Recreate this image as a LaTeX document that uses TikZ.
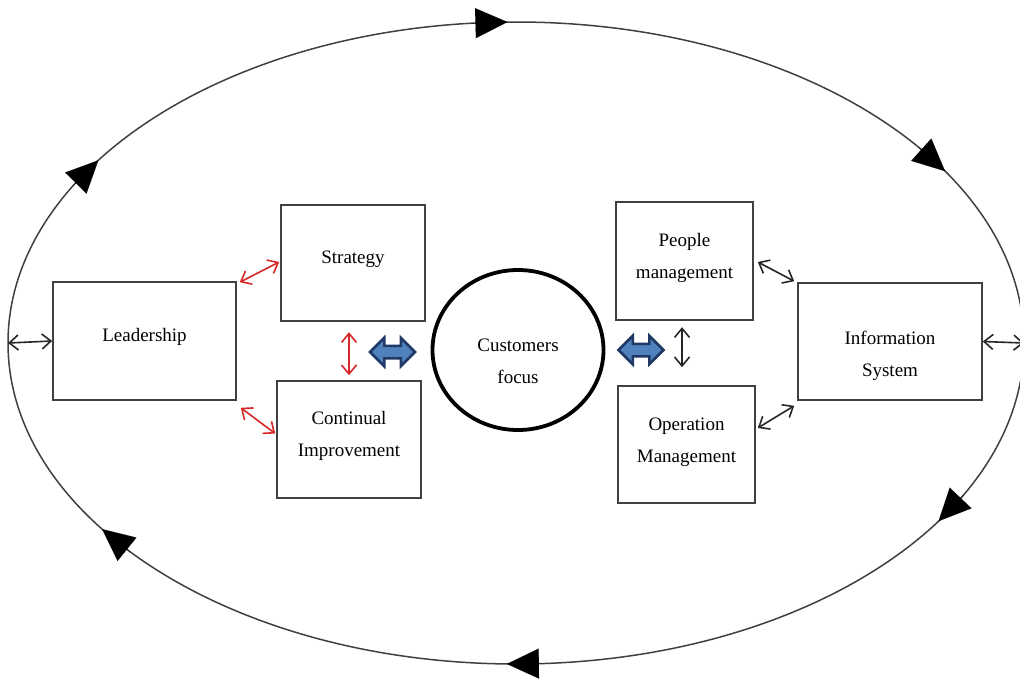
\documentclass[tikz,border=0pt]{standalone}
\usepackage{fontspec}
\setmainfont{Liberation Serif}
\usetikzlibrary{arrows.meta,shapes.arrows,shapes.geometric,calc}
\definecolor{linkred}{RGB}{214,40,40}
\definecolor{fatfill}{RGB}{79,129,189}
\definecolor{fatdraw}{RGB}{31,56,100}
\newcommand\liftlines[2]{\raisebox{#1}[\height][\depth]{\begin{tabular}{@{}c@{}}#2\end{tabular}}}

\begin{document}
\begin{tikzpicture}[x=1pt,y=-1pt]
    \useasboundingbox (0,0) rectangle (1020,681);
    \tikzset{BoxStyle/.style = {%
        shape= rectangle,
        draw= black!75,
        line width= 1.6pt,
        inner sep= 0pt,
        font= \fontsize{19}{32}\selectfont},
      FocusStyle/.style = {%
        shape= ellipse,
        draw= black,
        line width= 3.8pt,
        inner sep= 0pt,
        minimum width= 171pt,
        minimum height= 160pt,
        font= \fontsize{19}{32}\selectfont},
      FatArrow/.style = {%
        shape= double arrow,
        fill= fatfill,
        draw= fatdraw,
        line width= 2.5pt,
        inner xsep= 0pt,
        inner ysep= 5pt,
        minimum height= 45pt,
        double arrow head extend= 8pt},
      RedLink/.style = {%
        {Straight Barb[length=9pt,width=15pt]}-{Straight Barb[length=9pt,width=15pt]},
        draw= linkred, line width= 1.6pt},
      BlackLink/.style = {%
        {Straight Barb[length=9pt,width=15pt]}-{Straight Barb[length=9pt,width=15pt]},
        draw= black!85, line width= 1.6pt},
      OrbitStyle/.style = {draw= black!75, line width= 1.5pt}}
    % outer loop
    \draw[OrbitStyle] (516,343) ellipse [x radius=508pt, y radius=321pt];
    \foreach \ang in {93,35,-31,-89,-142,148} {%
      \pgfmathsetmacro\spd{5.08*sqrt((sin(\ang))^2+(0.6319*cos(\ang))^2)}
      \pgfmathsetmacro\dd{0.18/\spd*180/pi}
      \fill[-{Triangle[length=32pt,width=30pt]}, draw=black, line width=0.1pt]
        ({516+508*cos(\ang+\dd)},{343-321*sin(\ang+\dd)}) --
        ({516+508*cos(\ang-\dd)},{343-321*sin(\ang-\dd)});
    }
    \coordinate (orbL) at (8,343);
    \coordinate (orbR) at (1024,343);
    % boxes
    \node[BoxStyle, minimum width=183pt, minimum height=118pt] (lead) at (144.5,341) {\liftlines{6pt}{Leadership}};
    \node[BoxStyle, minimum width=144pt, minimum height=116pt] (strat) at (353,263) {\liftlines{6pt}{Strategy}};
    \node[BoxStyle, minimum width=144pt, minimum height=117pt] (cont) at (349,439.5) {\liftlines{5pt}{Continual\\Improvement}};
    \node[FocusStyle] (cust) at (518,350) {\liftlines{-11pt}{Customers\\focus}};
    \node[BoxStyle, minimum width=137pt, minimum height=118pt] (ppl) at (684.5,261) {\liftlines{5pt}{People\\management}};
    \node[BoxStyle, minimum width=137pt, minimum height=117pt] (op) at (686.5,444.5) {\liftlines{4.5pt}{Operation\\Management}};
    \node[BoxStyle, minimum width=184pt, minimum height=117pt] (info) at (890,341.5) {\liftlines{-12.5pt}{Information\\System}};
    % links
    \draw[RedLink] ($(lead.north east)+(3,1)$) -- ($(strat.west)+(-1,-1)$);
    \draw[RedLink] ($(lead.south east)+(4,7)$) -- ($(cont.west)+(-1,-6)$);
    \draw[RedLink] ($(cont.north)+(0,-48)$) -- ($(cont.north)+(0,-5)$);
    \node[FatArrow] (dblL) at (392.5,352) {};
    \node[FatArrow] (dblR) at (641,350) {};
    \draw[BlackLink] ($(op.north)+(-4.5,-58)$) -- ($(op.north)+(-4.5,-18)$);
    \draw[BlackLink] ($(ppl.east)+(4,1)$) -- ($(info.north west)+(-3,-1)$);
    \draw[BlackLink] ($(op.east)+(2,-16.5)$) -- ($(info.south west)+(-3,5)$);
    \draw[BlackLink] (orbL) -- (lead.west);
    \draw[BlackLink] (info.east) -- (orbR);
\end{tikzpicture}
\end{document}
